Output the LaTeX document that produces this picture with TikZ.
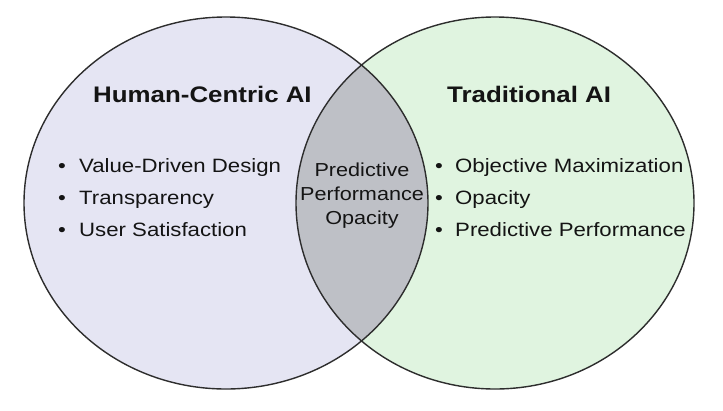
\documentclass[tikz,border=0pt]{standalone}
\usepackage{fontspec}
\setmainfont[FakeStretch=1.15]{Liberation Sans}
\begin{document}
\definecolor{humanfill}{RGB}{229,229,243}
\definecolor{tradfill}{RGB}{224,244,224}
\definecolor{overlapfill}{RGB}{190,192,198}
\definecolor{rim}{RGB}{45,45,45}
\definecolor{ink}{RGB}{20,20,20}
\begin{tikzpicture}[x=1pt,y=-1pt,
  heading/.style={font=\fontsize{22.5}{26}\selectfont\bfseries, text=ink, inner sep=0pt, anchor=base west},
  item/.style={font=\fontsize{19.3}{23}\selectfont, text=ink, inner sep=0pt, anchor=base west},
  dot/.style={font=\fontsize{19.3}{23}\selectfont, text=ink, inner sep=0pt, anchor=base},
  shared/.style={font=\fontsize{18.8}{22}\selectfont, text=ink, inner sep=0pt, anchor=base},
  rimline/.style={draw=rim, line width=1.4pt}]
\useasboundingbox (0,0) rectangle (723,410);
\fill[white] (0,0) rectangle (723,410);
% the two sets
\fill[humanfill] (226,203) ellipse [x radius=202pt, y radius=186pt];
\fill[tradfill] (495,203) ellipse [x radius=199pt, y radius=186pt];
% their intersection
\begin{scope}
  \clip (226,203) ellipse [x radius=202pt, y radius=186pt];
  \fill[overlapfill] (495,203) ellipse [x radius=199pt, y radius=186pt];
\end{scope}
\draw[rimline] (226,203) ellipse [x radius=202pt, y radius=186pt];
\draw[rimline] (495,203) ellipse [x radius=199pt, y radius=186pt];
% headings
\node[heading] (hhead) at (93,102) {Human-Centric AI};
\node[heading] (thead) at (447,102) {Traditional AI};
% human-centric items
\node[dot] (hb1) at (62,172) {•};
\node[dot] (hb2) at (62,204) {•};
\node[dot] (hb3) at (62,236) {•};
\node[item] (h1) at (79,172) {Value-Driven Design};
\node[item] (h2) at (79,204) {Transparency};
\node[item] (h3) at (79,236) {User Satisfaction};
% traditional items
\node[dot] (tb1) at (439,172) {•};
\node[dot] (tb2) at (439,204) {•};
\node[dot] (tb3) at (439,236) {•};
\node[item] (t1) at (455,172) {Objective Maximization};
\node[item] (t2) at (455,204) {Opacity};
\node[item] (t3) at (455,236) {Predictive Performance};
% shared items
\node[shared] (s1) at (362,176) {Predictive};
\node[shared] (s2) at (362,200) {Performance};
\node[shared] (s3) at (362,224) {Opacity};
\end{tikzpicture}
\end{document}
